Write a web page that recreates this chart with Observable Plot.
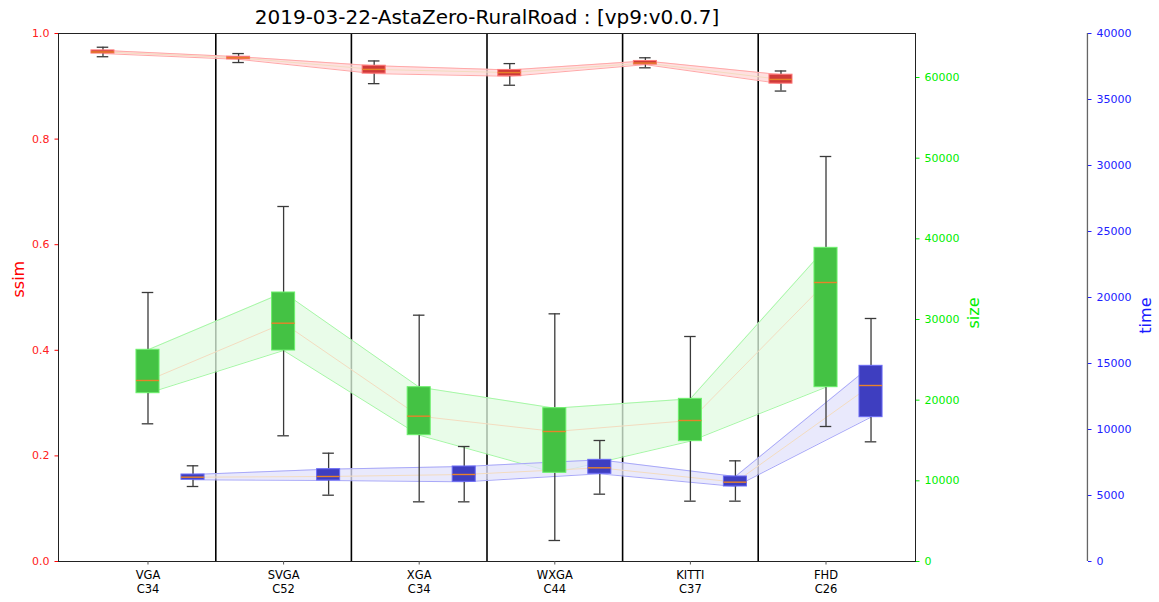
<!DOCTYPE html>
<html>
<head>
<meta charset="utf-8">
<script src="https://cdn.jsdelivr.net/npm/d3@7"></script>
<script src="https://cdn.jsdelivr.net/npm/@observablehq/plot@0.6"></script>
<style>
  html, body { margin: 0; padding: 0; background: #fff; }
  #chart svg { display: block; }
</style>
</head>
<body>
<div id="chart"></div>
<script>
// ---- data ----
const categories = ["VGA\nC34", "SVGA\nC52", "XGA\nC34", "WXGA\nC44", "KITTI\nC37", "FHD\nC26"];

// ssim: [min, q1, median, q3, max]
const ssimStats = [
  [0.956, 0.962, 0.965, 0.968, 0.974],
  [0.945, 0.951, 0.954, 0.956, 0.962],
  [0.905, 0.924, 0.932, 0.939, 0.948],
  [0.902, 0.919, 0.926, 0.931, 0.943],
  [0.935, 0.941, 0.944, 0.948, 0.954],
  [0.891, 0.905, 0.913, 0.922, 0.929]
];
// size (bytes)
const sizeStats = [
  [17070, 20864, 22439, 26245, 33348],
  [15583, 26158, 29542, 33348, 44009],
  [7397, 15660, 18016, 21610, 30537],
  [2603, 10993, 16116, 19008, 30703],
  [7479, 14918, 17480, 20165, 27893],
  [16736, 21610, 34588, 38885, 50208]
];
// time
const timeStats = [
  [5682, 6189, 6387, 6591, 7250],
  [5023, 6136, 6440, 6993, 8205],
  [4520, 6036, 6591, 7197, 8712],
  [5101, 6642, 7097, 7702, 9167],
  [4571, 5682, 6010, 6440, 7626],
  [9066, 10934, 13333, 14824, 18410]
];

const sizeTicks = [0, 10000, 20000, 30000, 40000, 50000, 60000];
const timeTicks = [0, 5000, 10000, 15000, 20000, 25000, 30000, 35000, 40000];
const ssimTicks = [0, 0.2, 0.4, 0.6, 0.8, 1.0];

const SIZE_MAX = 65456;   // top of size axis
const TIME_MAX = 40000;   // top of time axis

// ---- build series table (values normalised to the shared y scale) ----
const series = [
  {name: "ssim", stats: ssimStats, k: 1, off: -0.332,
   box: "#cf3a3a", boxEdge: "#ff7a7a", band: "#ffd6d6", bandEdge: "#ffa8a8"},
  {name: "size", stats: sizeStats, k: SIZE_MAX, off: 0,
   box: "#44c244", boxEdge: "#6cf06c", band: "#e2fbe2", bandEdge: "#a6f7a6"},
  {name: "time", stats: timeStats, k: TIME_MAX, off: 0.332,
   box: "#3e3ec0", boxEdge: "#6a6af5", band: "#e2e2fb", bandEdge: "#a8a8f8"}
];
const HW = 0.085; // half box width (in group units)

const rows = [];
for (const s of series) {
  s.stats.forEach((st, i) => {
    rows.push({
      series: s.name, i, x: i + s.off,
      min: st[0] / s.k, q1: st[1] / s.k, med: st[2] / s.k, q3: st[3] / s.k, max: st[4] / s.k,
      box: s.box, boxEdge: s.boxEdge, band: s.band, bandEdge: s.bandEdge
    });
  });
}

const marks = [];
const font = "DejaVu Sans, sans-serif";

// dividers between groups
marks.push(Plot.ruleX([0.5, 1.5, 2.5, 3.5, 4.5], {stroke: "black", strokeWidth: 1.6}));

// ribbons, lines
for (const s of series) {
  const d = rows.filter(r => r.series === s.name);
  marks.push(Plot.areaY(d, {x: "x", y1: "q1", y2: "q3", fill: s.band, fillOpacity: 0.75}));
  marks.push(Plot.line(d, {x: "x", y: "q1", stroke: s.bandEdge, strokeWidth: 1}));
  marks.push(Plot.line(d, {x: "x", y: "q3", stroke: s.bandEdge, strokeWidth: 1}));
  marks.push(Plot.line(d, {x: "x", y: "med", stroke: "#f3dcc0", strokeWidth: 1}));
}

// whiskers & caps
marks.push(Plot.ruleX(rows, {x: "x", y1: "max", y2: "q3", stroke: "#3a3a3a", strokeWidth: 1.3}));
marks.push(Plot.ruleX(rows, {x: "x", y1: "q1", y2: "min", stroke: "#3a3a3a", strokeWidth: 1.3}));
marks.push(Plot.ruleY(rows, {y: "max", x1: d => d.x - HW / 2, x2: d => d.x + HW / 2, stroke: "#3a3a3a", strokeWidth: 1.3}));
marks.push(Plot.ruleY(rows, {y: "min", x1: d => d.x - HW / 2, x2: d => d.x + HW / 2, stroke: "#3a3a3a", strokeWidth: 1.3}));
// boxes
marks.push(Plot.rect(rows, {x1: d => d.x - HW, x2: d => d.x + HW, y1: "q1", y2: "q3",
  fill: d => d.box, stroke: d => d.boxEdge, strokeWidth: 1}));
// medians
marks.push(Plot.ruleY(rows, {y: "med", x1: d => d.x - HW, x2: d => d.x + HW, stroke: "#e8822a", strokeWidth: 1.4}));

// frame
marks.push(Plot.frame({stroke: "#222", strokeWidth: 1}));

// axes
marks.push(Plot.axisX([0, 1, 2, 3, 4, 5], {
  tickFormat: i => categories[i], tickSize: 3.5, stroke: "#555", fontSize: 11.5, fill: "black",
  tickPadding: 4, label: null, lineHeight: 1.2
}));
marks.push(Plot.axisY(ssimTicks, {
  anchor: "left", tickFormat: d => d.toFixed(1), tickSize: 3.5, stroke: "red", color: "red",
  fill: "#ff2020", fontSize: 11, label: null
}));
marks.push(Plot.axisY(sizeTicks.map(v => v / SIZE_MAX), {
  anchor: "right", tickFormat: d => String(Math.round(d * SIZE_MAX / 1000) * 1000),
  tickSize: 3.5, stroke: "#00ee00", fill: "#00ee00", fontSize: 11, label: null
}));
// time axis spine placed beyond the frame
marks.push(Plot.ruleX([6.928], {y1: 0, y2: 1, stroke: "#666", strokeWidth: 1.3}));
marks.push(Plot.axisY(timeTicks.map(v => v / TIME_MAX), {
  anchor: "right", dx: 172, tickFormat: d => String(Math.round(d * TIME_MAX)),
  tickSize: 3.5, stroke: "#2020ff", fill: "#2020ff", fontSize: 11, label: null
}));

// axis titles & chart title
marks.push(Plot.text(["ssim"], {frameAnchor: "left", dx: -40, rotate: -90, fill: "red", fontSize: 16, fontFamily: font}));
marks.push(Plot.text(["size"], {frameAnchor: "right", dx: 58, rotate: -90, fill: "#00ee00", fontSize: 16, fontFamily: font}));
marks.push(Plot.text(["time"], {frameAnchor: "right", dx: 230, rotate: -90, fill: "#1a1aff", fontSize: 16, fontFamily: font}));
marks.push(Plot.text(["2019-03-22-AstaZero-RuralRoad : [vp9:v0.0.7]"], {
  frameAnchor: "top", dy: -24, fill: "black", fontSize: 20, fontFamily: font
}));

const chart = Plot.plot({
  width: 1159,
  height: 602,
  marginLeft: 58,
  marginRight: 244,
  marginTop: 33,
  marginBottom: 41,
  style: {fontFamily: font, background: "white", overflow: "visible"},
  x: {type: "linear", domain: [-0.66, 5.66], axis: null},
  y: {domain: [0, 1], axis: null},
  marks
});
document.getElementById("chart").append(chart);
</script>
</body>
</html>
